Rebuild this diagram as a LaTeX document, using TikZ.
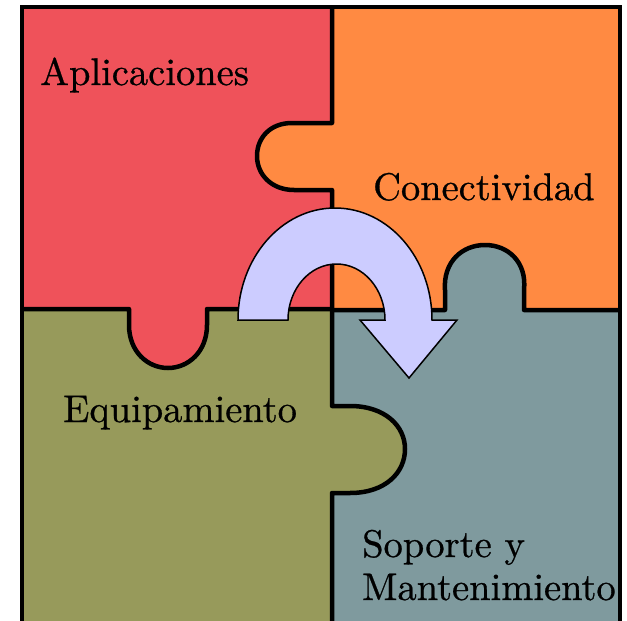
\documentclass[tikz,border=0pt]{standalone}
\usepackage{fontspec}
\newfontfamily\piecefont{lmroman10-regular.otf}[FakeBold=0.7]
\definecolor{redpiece}{RGB}{239,82,90}
\definecolor{orangepiece}{RGB}{255,138,66}
\definecolor{olivepiece}{RGB}{151,154,91}
\definecolor{tealpiece}{RGB}{127,154,158}
\definecolor{arrowfill}{RGB}{204,204,255}
\begin{document}
\begin{tikzpicture}[x=1pt, y=-1pt,
        cutline/.style={line width=4.5pt, line join=round},
        word/.style={inner sep=0pt, anchor=base west, font=\piecefont\fontsize{38.5}{43}\selectfont},
        turnarrow/.style={fill=arrowfill, draw=black, line width=1.5pt, line join=miter}]
        \useasboundingbox (0,0) rectangle (627,621);
        \fill[redpiece] (22,7) rectangle (332,310);
        \fill[orangepiece] (332,7) rectangle (620,310);
        \fill[olivepiece] (22,310) rectangle (332,623);
        \fill[tealpiece] (332,310) rectangle (620,623);
        \fill[orangepiece] (334,123) -- (292,123) .. controls (270,123) and (257,138) .. (257,156) .. controls (257,175) and (272,190) .. (294,190) -- (334,190) -- cycle;
        \fill[redpiece] (129,307) -- (129,325) .. controls (129,352) and (148,368) .. (168,368) .. controls (188,368) and (207,352) .. (207,325) -- (207,307) -- cycle;
        \fill[tealpiece] (445,312) -- (445,290) .. controls (443,262) and (462,245) .. (485,245) .. controls (508,245) and (527,262) .. (524,290) -- (524,312) -- cycle;
        \fill[olivepiece] (330,406) -- (350,406) .. controls (385,406) and (405,426) .. (405,449) .. controls (405,473) and (385,493) .. (350,493) -- (330,493) -- cycle;
        \draw[cutline] (332,7) -- (332,123) -- (292,123) .. controls (270,123) and (257,138) .. (257,156) .. controls (257,175) and (272,190) .. (294,190) -- (332,190) -- (332,406) -- (350,406) .. controls (385,406) and (405,426) .. (405,449) .. controls (405,473) and (385,493) .. (350,493) -- (332,493) -- (332,623);
        \draw[cutline] (22,309) -- (129,309) -- (129,325) .. controls (129,352) and (148,368) .. (168,368) .. controls (188,368) and (207,352) .. (207,325) -- (207,309) -- (332,309) -- (332,310) -- (445,310) -- (445,290) .. controls (443,262) and (462,245) .. (485,245) .. controls (508,245) and (527,262) .. (524,290) -- (524,310) -- (620,310);
        \draw[line width=4.5pt] (22,7) rectangle (620,623);
        \draw[turnarrow] (238,320) arc[start angle=180, end angle=360, x radius=97, y radius=112] -- (457,320) -- (409,378) -- (360,320) -- (385,320) arc[start angle=0, end angle=-180, x radius=48.5, y radius=56] -- cycle;
        \node[word] (apps) at (40,85) {Aplicaciones};
        \node[word] (conn) at (373,200) {Conectividad};
        \node[word] (equip) at (63,422) {Equipamiento};
        \node[word, align=left] (support) at (362,600) {Soporte y\\Mantenimiento};
    \end{tikzpicture}
\end{document}
